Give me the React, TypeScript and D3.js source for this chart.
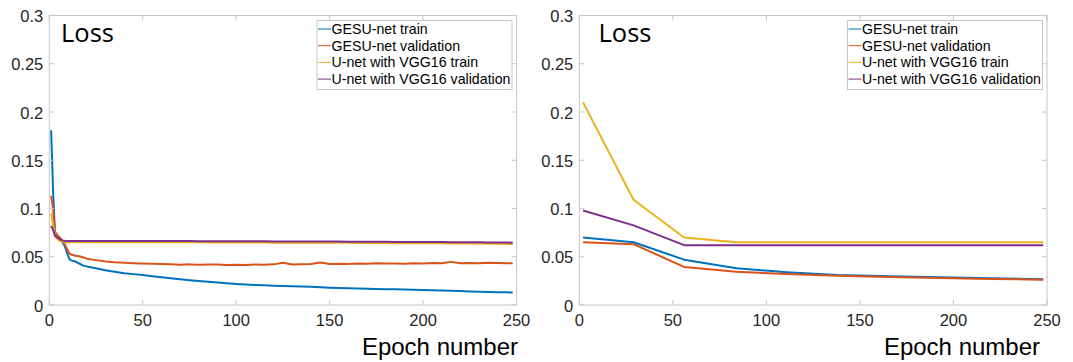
import React from "react";
import { scaleLinear, line } from "d3";

// ---- data ----
const seriesNames = [
  "GESU-net train",
  "GESU-net validation",
  "U-net with VGG16 train",
  "U-net with VGG16 validation",
];
const seriesColors = ["#0072BD", "#D95319", "#EDB120", "#7E2F8E"];

const xTicks = [0, 50, 100, 150, 200, 250];
const yTicks = [0, 0.05, 0.1, 0.15, 0.2, 0.25, 0.3];
const yTickLabels = ["0", "0.05", "0.1", "0.15", "0.2", "0.25", "0.3"];

// left panel (per epoch training run)
const leftEpochs = [
  1, 2, 3, 4, 5, 6, 7, 8, 9, 10, 11, 12, 14, 16, 18, 20, 25, 30, 35, 40, 45, 50,
  55, 60, 65, 70, 75, 80, 85, 90, 95, 100, 105, 110, 115, 120, 125, 130, 135,
  140, 145, 150, 155, 160, 165, 170, 175, 180, 185, 190, 195, 200, 205, 210,
  215, 220, 225, 230, 235, 240, 245, 248,
];
const leftGesuTrain = [
  0.181, 0.12, 0.076, 0.071, 0.069, 0.067, 0.065, 0.062, 0.057, 0.051, 0.047,
  0.046, 0.045, 0.043, 0.041, 0.04, 0.038, 0.036, 0.0345, 0.033, 0.032, 0.031,
  0.0298, 0.0287, 0.0276, 0.0266, 0.0257, 0.0249, 0.0241, 0.0233, 0.0225,
  0.0218, 0.0213, 0.0208, 0.0204, 0.02, 0.0197, 0.0194, 0.0191, 0.0188, 0.0184,
  0.018, 0.0177, 0.0174, 0.0171, 0.0168, 0.0166, 0.0164, 0.0162, 0.016, 0.0158,
  0.0156, 0.0153, 0.015, 0.0147, 0.0144, 0.0141, 0.0138, 0.0135, 0.0133,
  0.0131, 0.0129,
];
const leftGesuVal = [
  0.113, 0.1, 0.076, 0.073, 0.071, 0.069, 0.067, 0.064, 0.06, 0.056, 0.053,
  0.052, 0.051, 0.0505, 0.0495, 0.048, 0.0465, 0.0452, 0.0442, 0.0437, 0.0433,
  0.043, 0.0428, 0.0425, 0.0422, 0.0418, 0.0421, 0.0416, 0.0419, 0.042, 0.0414,
  0.0417, 0.0415, 0.0419, 0.0418, 0.0421, 0.0438, 0.042, 0.0423, 0.0425, 0.044,
  0.0424, 0.0428, 0.0426, 0.043, 0.0427, 0.0432, 0.0429, 0.0431, 0.0428,
  0.0433, 0.043, 0.0434, 0.0432, 0.0447, 0.0433, 0.0436, 0.0432, 0.0437,
  0.0434, 0.0433, 0.0432,
];
const leftVggTrain = [
  0.095, 0.083, 0.072, 0.069, 0.067, 0.066, 0.0655, 0.065, 0.065, 0.065, 0.065,
  0.065, 0.065, 0.065, 0.065, 0.065, 0.065, 0.065, 0.065, 0.065, 0.065, 0.065,
  0.065, 0.065, 0.065, 0.0649, 0.0649, 0.0649, 0.0648, 0.0648, 0.0648, 0.0648,
  0.0647, 0.0647, 0.0647, 0.0646, 0.0646, 0.0646, 0.0646, 0.0645, 0.0645,
  0.0645, 0.0644, 0.0644, 0.0643, 0.0643, 0.0642, 0.0642, 0.0641, 0.0641,
  0.064, 0.064, 0.0639, 0.0639, 0.0638, 0.0637, 0.0637, 0.0636, 0.0635,
  0.0634, 0.0633, 0.0633,
];
const leftVggVal = [
  0.082, 0.078, 0.072, 0.07, 0.069, 0.068, 0.067, 0.0665, 0.066, 0.0662, 0.0663,
  0.0663, 0.0663, 0.0663, 0.0663, 0.0663, 0.0663, 0.0663, 0.0663, 0.0663,
  0.0663, 0.0663, 0.0662, 0.0662, 0.0662, 0.0662, 0.0662, 0.0661, 0.0661,
  0.0661, 0.0661, 0.066, 0.066, 0.066, 0.066, 0.0659, 0.0659, 0.0659, 0.0658,
  0.0658, 0.0658, 0.0657, 0.0657, 0.0656, 0.0656, 0.0656, 0.0655, 0.0655,
  0.0654, 0.0654, 0.0653, 0.0653, 0.0652, 0.0652, 0.0651, 0.0651, 0.065,
  0.0649, 0.0648, 0.0648, 0.0647, 0.0646,
];

// right panel (sparse checkpoints)
const rightEpochs = [2, 29, 56, 84, 111, 138, 166, 193, 220, 248];
const rightGesuTrain = [0.07, 0.065, 0.047, 0.038, 0.034, 0.031, 0.0298, 0.0288, 0.0278, 0.0268];
const rightGesuVal = [0.065, 0.063, 0.0395, 0.0345, 0.032, 0.0302, 0.029, 0.028, 0.027, 0.0262];
const rightVggTrain = [0.21, 0.109, 0.07, 0.065, 0.065, 0.065, 0.065, 0.065, 0.065, 0.065];
const rightVggVal = [0.098, 0.0825, 0.062, 0.062, 0.062, 0.062, 0.062, 0.062, 0.062, 0.062];

const leftSeries = [leftGesuTrain, leftGesuVal, leftVggTrain, leftVggVal];
const rightSeries = [rightGesuTrain, rightGesuVal, rightVggTrain, rightVggVal];

const W = 1073;
const H = 362;
const tickFont = "'Liberation Sans', Arial, Helvetica, sans-serif";
const titleFont = "'Open Sans', Lato, sans-serif";
const axisGray = "#c6c6c6";

function Panel({ left, right, epochs, series, lossX, xlabelEnd, legendX }) {
  const top = 15.5;
  const bottom = 305;
  const x = scaleLinear().domain([0, 250]).range([left, right]);
  const y = scaleLinear().domain([0, 0.3]).range([bottom, top]);
  const tl = 5;

  const mk = (vals) =>
    line<number>()
      .x((d, i) => x(epochs[i]))
      .y((d) => y(d))(vals);

  const lgY = 20.5;
  const lgW = 195;
  const lgH = 69;

  return (
    <g>
      <rect x={left} y={top} width={right - left} height={bottom - top} fill="#fff" />
      {series.map((vals, i) => (
        <path
          key={i}
          d={mk(vals)}
          fill="none"
          stroke={seriesColors[i]}
          strokeWidth={2}
          strokeLinejoin="round"
        />
      ))}
      <rect
        x={left}
        y={top}
        width={right - left}
        height={bottom - top}
        fill="none"
        stroke={axisGray}
        strokeWidth={1}
      />
      {xTicks.map((t) => (
        <g key={"x" + t}>
          <line x1={x(t)} x2={x(t)} y1={bottom} y2={bottom - tl} stroke={axisGray} />
          <line x1={x(t)} x2={x(t)} y1={top} y2={top + tl} stroke={axisGray} />
          <text
            x={x(t)}
            y={bottom + 21}
            textAnchor="middle"
            fontFamily={tickFont}
            fontSize={16.5}
            fill="#262626"
          >
            {t}
          </text>
        </g>
      ))}
      {yTicks.map((t, i) => (
        <g key={"y" + t}>
          <line x1={left} x2={left + tl} y1={y(t)} y2={y(t)} stroke={axisGray} />
          <line x1={right} x2={right - tl} y1={y(t)} y2={y(t)} stroke={axisGray} />
          <text
            x={left - 6}
            y={y(t) + 6.5}
            textAnchor="end"
            fontFamily={tickFont}
            fontSize={16.5}
            fill="#262626"
          >
            {yTickLabels[i]}
          </text>
        </g>
      ))}
      <text x={lossX} y={42} fontFamily={titleFont} fontSize={25.5} fill="#000">
        Loss
      </text>
      <text
        x={xlabelEnd}
        y={355}
        textAnchor="end"
        fontFamily={tickFont}
        fontSize={24}
        fill="#000"
      >
        Epoch number
      </text>
      <rect x={legendX} y={lgY} width={lgW} height={lgH} fill="#fff" stroke={axisGray} />
      {seriesNames.map((name, i) => (
        <g key={name}>
          <line
            x1={legendX + 1}
            x2={legendX + 14}
            y1={lgY + 8.5 + i * 16.7}
            y2={lgY + 8.5 + i * 16.7}
            stroke={seriesColors[i]}
            strokeWidth={1}
          />
          <text
            x={legendX + 14.5}
            y={lgY + 13.3 + i * 16.7}
            fontFamily={tickFont}
            fontSize={14.2}
            fill="#000"
          >
            {name}
          </text>
        </g>
      ))}
    </g>
  );
}

export default function App() {
  return (
    <svg
      width={W}
      height={H}
      style={{ position: "absolute", left: 0, top: 0, background: "#fff" }}
    >
      <rect width={W} height={H} fill="#fff" />
      <Panel
        left={49.3}
        right={516.5}
        epochs={leftEpochs}
        series={leftSeries}
        lossX={61}
        xlabelEnd={518}
        legendX={317}
      />
      <Panel
        left={579.3}
        right={1047}
        epochs={rightEpochs}
        series={rightSeries}
        lossX={598.5}
        xlabelEnd={1040}
        legendX={847.5}
      />
    </svg>
  );
}
